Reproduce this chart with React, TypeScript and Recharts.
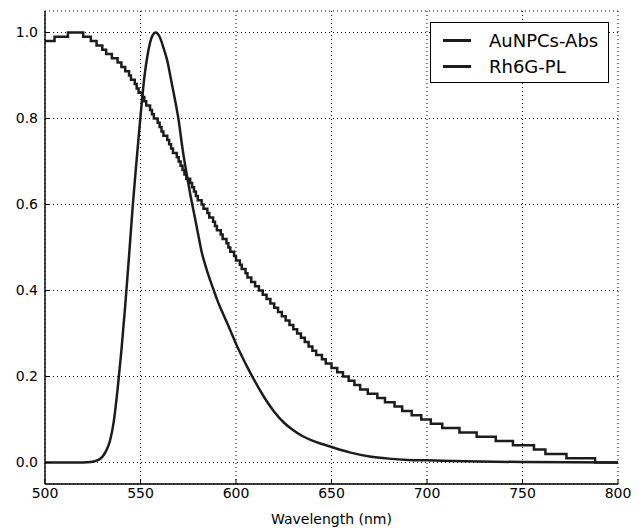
import { LineChart, Line, XAxis, YAxis, CartesianGrid } from 'recharts'

// AuNPCs absorbance, one value per nm from 500 to 800 (0.01 resolution, drawn stepped)
const absStart = 500
const absValue = [
  0.98, 0.98, 0.98, 0.98, 0.98, 0.99, 0.99, 0.99, 0.99, 0.99,
  0.99, 0.99, 1.0, 1.0, 1.0, 1.0, 1.0, 1.0, 1.0, 1.0,
  0.99, 0.99, 0.99, 0.99, 0.98, 0.98, 0.98, 0.97, 0.97, 0.97,
  0.96, 0.96, 0.95, 0.95, 0.95, 0.94, 0.94, 0.94, 0.93, 0.93,
  0.92, 0.92, 0.91, 0.91, 0.9, 0.89, 0.89, 0.88, 0.87, 0.86,
  0.86, 0.85, 0.84, 0.83, 0.83, 0.82, 0.81, 0.8, 0.8, 0.79,
  0.78, 0.77, 0.76, 0.76, 0.75, 0.74, 0.73, 0.72, 0.72, 0.71,
  0.7, 0.69, 0.68, 0.67, 0.66, 0.66, 0.65, 0.64, 0.63, 0.62,
  0.61, 0.61, 0.6, 0.59, 0.59, 0.58, 0.57, 0.57, 0.56, 0.55,
  0.54, 0.54, 0.53, 0.52, 0.52, 0.51, 0.5, 0.49, 0.49, 0.48,
  0.47, 0.47, 0.46, 0.45, 0.45, 0.44, 0.43, 0.43, 0.42, 0.42,
  0.41, 0.41, 0.4, 0.4, 0.39, 0.39, 0.38, 0.38, 0.37, 0.37,
  0.36, 0.36, 0.35, 0.35, 0.34, 0.34, 0.33, 0.33, 0.32, 0.32,
  0.31, 0.31, 0.3, 0.3, 0.29, 0.29, 0.28, 0.28, 0.27, 0.27,
  0.26, 0.26, 0.25, 0.25, 0.25, 0.24, 0.24, 0.23, 0.23, 0.23,
  0.22, 0.22, 0.22, 0.21, 0.21, 0.21, 0.2, 0.2, 0.2, 0.19,
  0.19, 0.19, 0.18, 0.18, 0.18, 0.17, 0.17, 0.17, 0.17, 0.16,
  0.16, 0.16, 0.16, 0.16, 0.15, 0.15, 0.15, 0.15, 0.14, 0.14,
  0.14, 0.14, 0.14, 0.13, 0.13, 0.13, 0.13, 0.12, 0.12, 0.12,
  0.12, 0.12, 0.11, 0.11, 0.11, 0.11, 0.11, 0.1, 0.1, 0.1,
  0.1, 0.1, 0.09, 0.09, 0.09, 0.09, 0.09, 0.09, 0.08, 0.08,
  0.08, 0.08, 0.08, 0.08, 0.08, 0.08, 0.08, 0.07, 0.07, 0.07,
  0.07, 0.07, 0.07, 0.07, 0.07, 0.07, 0.06, 0.06, 0.06, 0.06,
  0.06, 0.06, 0.06, 0.06, 0.06, 0.06, 0.05, 0.05, 0.05, 0.05,
  0.05, 0.05, 0.05, 0.05, 0.05, 0.04, 0.04, 0.04, 0.04, 0.04,
  0.04, 0.04, 0.04, 0.04, 0.04, 0.04, 0.03, 0.03, 0.03, 0.03,
  0.03, 0.03, 0.02, 0.02, 0.02, 0.02, 0.02, 0.02, 0.02, 0.02,
  0.02, 0.02, 0.02, 0.01, 0.01, 0.01, 0.01, 0.01, 0.01, 0.01,
  0.01, 0.01, 0.01, 0.01, 0.01, 0.01, 0.01, 0.01, 0.0, 0.0,
  0.0, 0.0, 0.0, 0.0, 0.0, 0.0, 0.0, 0.0, 0.0, 0.0,
  0.0,
]

// Rh6G photoluminescence
const plNm = [
  500, 510, 520, 524, 526, 528, 530, 532, 534, 536,
  538, 540, 542, 544, 546, 548, 550, 552, 554, 556,
  558, 560, 562, 564, 566, 568, 570, 572, 574, 576,
  578, 580, 582, 584, 586, 588, 590, 592, 594, 596,
  598, 600, 605, 610, 615, 620, 625, 630, 635, 640,
  645, 650, 655, 660, 670, 680, 690, 700, 720, 750,
  800,
]
const plValue = [
  0, 0, 0, 0.001, 0.003, 0.006, 0.013, 0.027, 0.05, 0.095,
  0.17, 0.26, 0.365, 0.48, 0.6, 0.705, 0.805, 0.895, 0.955, 0.99,
  1.0, 0.99, 0.965, 0.935, 0.89, 0.845, 0.795, 0.73, 0.675, 0.625,
  0.58, 0.535, 0.49, 0.458, 0.43, 0.405, 0.38, 0.358, 0.338, 0.318,
  0.297, 0.276, 0.23, 0.188, 0.15, 0.118, 0.093, 0.075, 0.061, 0.051,
  0.043, 0.036, 0.029, 0.023, 0.014, 0.009, 0.006, 0.005, 0.003, 0.001,
  0,
]

const xTicks = [500, 550, 600, 650, 700, 750, 800]
const yTicks = [0, 0.2, 0.4, 0.6, 0.8, 1.0]
const seriesNames = ['AuNPCs-Abs', 'Rh6G-PL']

const absData = absValue.map((v, i) => ({ nm: absStart + i, v }))
const plData = plNm.map((nm, i) => ({ nm, v: plValue[i] }))

const ink = '#1c1c1c'
const font = 'DejaVu Sans, sans-serif'

// matplotlib-style boxed legend, placed over the upper right of the plot
function LegendBox() {
  return (
    <div
      style={{
        position: 'absolute',
        left: 430,
        top: 22,
        width: 179,
        height: 61,
        boxSizing: 'border-box',
        border: '1px solid #000',
        background: '#fff',
        fontFamily: font,
        fontSize: 18,
        color: '#000',
        paddingTop: 4,
      }}
    >
      {seriesNames.map((name) => (
        <div key={name} style={{ display: 'flex', alignItems: 'center', height: 26 }}>
          <div style={{ width: 28, height: 3, background: ink, marginLeft: 12, marginRight: 18 }} />
          <span>{name}</span>
        </div>
      ))}
    </div>
  )
}

export default function App() {
  return (
    <div style={{ position: 'absolute', left: 0, top: 0, width: 644, height: 530, background: '#fff' }}>
      <LineChart width={644} height={530} margin={{ top: 11, right: 26, left: 0, bottom: 0 }}>
        <CartesianGrid stroke="#000" strokeDasharray="1 3" strokeWidth={1} />
        <XAxis
          dataKey="nm"
          type="number"
          domain={[500, 800]}
          ticks={xTicks}
          allowDataOverflow
          height={46}
          tickSize={-5}
          tickMargin={9}
          tick={{ fill: '#000', fontSize: 14, fontFamily: font }}
          axisLine={{ stroke: '#000', strokeWidth: 1.4 }}
          tickLine={{ stroke: '#000' }}
          label={{ value: 'Wavelength (nm)', position: 'insideBottom', offset: 6, fill: '#000', fontSize: 14, fontFamily: font }}
        />
        <XAxis
          xAxisId="top"
          orientation="top"
          type="number"
          domain={[500, 800]}
          ticks={xTicks}
          allowDataOverflow
          height={0}
          tickSize={-5}
          tickFormatter={() => ''}
          axisLine={{ stroke: '#000', strokeWidth: 1.4 }}
          tickLine={{ stroke: '#000' }}
        />
        <YAxis
          type="number"
          domain={[-0.05, 1.05]}
          ticks={yTicks}
          allowDataOverflow
          width={45}
          tickSize={-5}
          tickMargin={12}
          tickFormatter={(v: number) => v.toFixed(1)}
          tick={{ fill: '#000', fontSize: 14, fontFamily: font }}
          axisLine={{ stroke: '#000', strokeWidth: 1.4 }}
          tickLine={{ stroke: '#000' }}
        />
        <YAxis
          yAxisId="right"
          orientation="right"
          type="number"
          domain={[-0.05, 1.05]}
          ticks={yTicks}
          allowDataOverflow
          width={0}
          tickSize={-5}
          tickFormatter={() => ''}
          axisLine={{ stroke: '#000', strokeWidth: 1.4 }}
          tickLine={{ stroke: '#000' }}
        />
        <Line
          data={absData}
          dataKey="v"
          name={seriesNames[0]}
          type="stepAfter"
          stroke={ink}
          strokeWidth={2.5}
          dot={false}
          isAnimationActive={false}
        />
        <Line
          data={plData}
          dataKey="v"
          name={seriesNames[1]}
          type="monotone"
          stroke={ink}
          strokeWidth={2.5}
          dot={false}
          isAnimationActive={false}
        />
      </LineChart>
      <LegendBox />
    </div>
  )
}
